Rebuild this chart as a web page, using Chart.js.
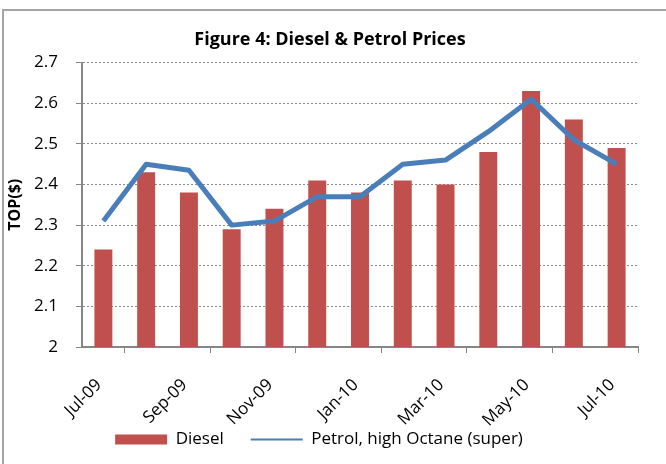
<!DOCTYPE html>
<html>
<head>
<meta charset="utf-8">
<title>Figure 4: Diesel & Petrol Prices</title>
<script src="https://cdn.jsdelivr.net/npm/chart.js@4/dist/chart.umd.min.js"></script>
<style>
  html, body { margin: 0; padding: 0; background: #fff; overflow: hidden; }
  #wrap { position: relative; width: 666px; height: 464px; }
  #frame {
    position: absolute; left: 2px; top: 9px; width: 700px; height: 500px;
    border-left: 2px solid #a5a5a5; border-top: 2px solid #a5a5a5;
  }
  #chart { position: absolute; left: 0; top: 0; }
</style>
</head>
<body>
<div id="wrap">
  <div id="frame"></div>
  <canvas id="chart" width="666" height="464"></canvas>
</div>
<script>
// monthly prices, Jul-09 .. Jul-10
const months = ["Jul-09", "Aug-09", "Sep-09", "Oct-09", "Nov-09", "Dec-09", "Jan-10",
  "Feb-10", "Mar-10", "Apr-10", "May-10", "Jun-10", "Jul-10"];
const diesel = [2.24, 2.43, 2.38, 2.29, 2.34, 2.41, 2.38, 2.41, 2.40, 2.48, 2.63, 2.56, 2.49];
const petrol = [2.31, 2.45, 2.435, 2.30, 2.31, 2.37, 2.37, 2.45, 2.46, 2.53, 2.61, 2.51, 2.45];
const yMin = 2, yMax = 2.7, yStep = 0.1;

const FONT = "'Open Sans', Lato, sans-serif";
const axisGrey = "#868686";

// x is a linear axis so the month labels sit on the category boundaries (Excel date axis look)
const toPoints = (arr) => arr.map((v, i) => ({ x: i + 0.5, y: v }));

// the x labels need a tall scale box (they get clipped to it), so pull the legend back up;
// the title is centred over the whole frame, not just the plot
const layoutNudge = {
  id: "layoutNudge",
  afterLayout(chart) {
    chart.legend.top -= 23;
    chart.legend.bottom -= 23;
    chart.titleBlock.left += 11;
    chart.titleBlock.right += 11;
  },
};

const ctx = document.getElementById("chart").getContext("2d");
new Chart(ctx, {
  type: "bar",
  data: {
    datasets: [
      {
        label: "Diesel",
        data: toPoints(diesel),
        backgroundColor: "#C0504D",
        borderWidth: 0,
        barPercentage: 0.42,
        categoryPercentage: 1,
        pointStyle: "rect",
        order: 2,
      },
      {
        type: "line",
        label: "Petrol, high Octane (super)",
        data: toPoints(petrol),
        borderColor: "#4A7EBB",
        backgroundColor: "#4A7EBB",
        borderWidth: 5,
        pointRadius: 0,
        tension: 0,
        borderJoinStyle: "round",
        pointStyle: "line",
        order: 1,
      },
    ],
  },
  plugins: [layoutNudge],
  options: {
    responsive: false,
    animation: false,
    layout: { padding: { left: 0, right: 28, top: 0, bottom: -17 } },
    scales: {
      x: {
        type: "linear",
        min: 0,
        max: months.length,
        offset: false,
        afterFit: (scale) => { scale.height = 80; },
        ticks: {
          stepSize: 1,
          autoSkip: false,
          minRotation: 45,
          maxRotation: 45,
          labelOffset: 17,
          padding: 22,
          color: "#000",
          font: { family: FONT, size: 17 },
          callback: (v) => (v % 2 === 0 && months[v]) ? months[v] : null,
        },
        grid: {
          drawOnChartArea: false,
          drawTicks: true,
          tickLength: 6,
          color: axisGrey,
          lineWidth: 1,
        },
        border: { display: true, color: axisGrey, width: 2 },
      },
      y: {
        min: yMin,
        max: yMax,
        afterFit: (scale) => { scale.width = 82; },
        ticks: {
          stepSize: yStep,
          padding: 18,
          color: "#000",
          font: { family: FONT, size: 17 },
          callback: (v) => String(Number(v.toFixed(1))),
        },
        grid: {
          color: "#8a8a8a",
          lineWidth: 1,
          tickLength: 6,
          tickColor: axisGrey,
          tickBorderDash: [],
        },
        border: { display: true, color: axisGrey, width: 2, dash: [2, 2] },
        title: {
          display: true,
          text: "TOP($)",
          color: "#000",
          font: { family: FONT, size: 16, weight: "bold" },
          padding: { top: 6, bottom: 0 },
        },
      },
    },
    plugins: {
      title: {
        display: true,
        text: "Figure 4: Diesel & Petrol Prices",
        color: "#000",
        font: { family: FONT, size: 18, weight: "bold" },
        padding: { top: 29, bottom: 12 },
      },
      legend: {
        display: true,
        position: "bottom",
        labels: {
          usePointStyle: true,
          pointStyleWidth: 52,
          boxHeight: 10,
          padding: 27,
          color: "#000",
          font: { family: FONT, size: 17 },
          sort: (a, b) => a.datasetIndex - b.datasetIndex,
          generateLabels: (chart) => {
            const items = Chart.defaults.plugins.legend.labels.generateLabels(chart);
            items.forEach((it) => {
              if (it.pointStyle === "line") it.lineWidth = 2;
            });
            return items;
          },
        },
      },
      tooltip: { enabled: false },
    },
  },
});
</script>
</body>
</html>
